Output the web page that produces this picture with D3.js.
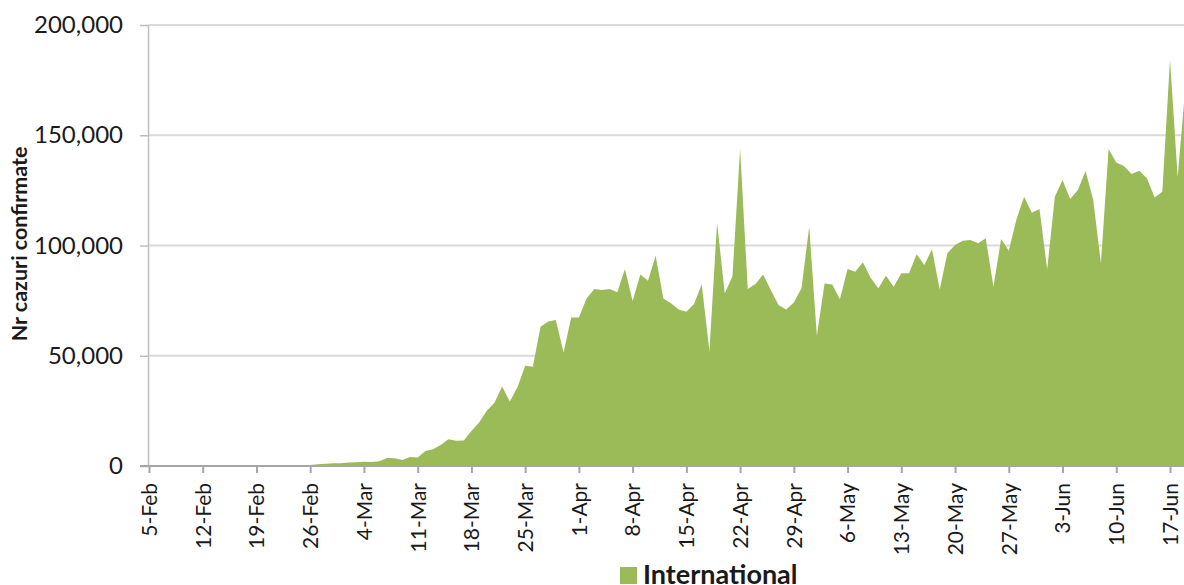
<!DOCTYPE html>
<html>
<head>
<meta charset="utf-8">
<script src="https://cdn.jsdelivr.net/npm/d3@7"></script>
<style>
  body { margin: 0; background: #fff; }
  text { font-family: Lato, "Open Sans", sans-serif; fill: #1a1a1a; }
</style>
</head>
<body>
<svg id="chart" width="1184" height="585"></svg>
<script>
// data: daily confirmed cases, starting 5-Feb
var startDate = new Date(Date.UTC(2020, 1, 5));
var seriesName = 'International';
var cases = [
  30, 25, 20, 40, 30, 35, 25, 30, 40, 50,
  20, 60, 40, 50, 60, 80, 120, 150, 200, 250, 350,
  450, 750, 1000, 1200, 1250, 1600, 1750, 1900, 1800, 2200,
  3600, 3500, 2700, 4100, 3900, 6800, 7600, 9500, 12100, 11500,
  11600, 15900, 19700, 25100, 28700, 36000, 29200, 35700, 45500, 45000,
  63200, 65500, 66200, 51500, 67400, 67400, 76000, 80300, 79800, 80300,
  78800, 89300, 74800, 86800, 84000, 95400, 76000, 73800, 71000, 70000,
  73500, 82400, 52200, 110300, 78300, 85900, 143800, 80300, 82500, 86900,
  79800, 73000, 71000, 74200, 80600, 108500, 59100, 82800, 82300, 75600,
  89300, 88100, 92400, 85400, 80600, 86300, 81300, 87400, 87400, 96000,
  91200, 98300, 80100, 96500, 100200, 102200, 102500, 101000, 103300, 81300,
  102900, 97600, 111900, 122100, 114900, 116500, 89200, 122100, 129700, 121100,
  125200, 133800, 120600, 91900, 143800, 137600, 136000, 132400, 133900, 130500,
  121800, 124400, 184400, 130900, 172000
];
var yTicks = [0, 50000, 100000, 150000, 200000];
var yTitle = 'Nr cazuri confirmate';

var dates = cases.map(function(d, i){
  return d3.utcDay.offset(startDate, i);
});
// weekly ticks 5-Feb .. 17-Jun
var tickDates = d3.range(0, 134, 7).map(function(i){
  return d3.utcDay.offset(startDate, i);
});

var svg = d3.select('#chart');

var plotLeft = 149, plotBottom = 466, plotTop = 25;
var dayPx = (1170 - 149) / 133;

var xScale = d3.scaleUtc()
  .domain([startDate, dates[dates.length - 1]])
  .range([plotLeft, plotLeft + (dates.length - 1) * dayPx]);

var yScale = d3.scaleLinear()
  .domain([0, 200000])
  .range([plotBottom, plotTop]);

// gridlines
svg.append('g')
  .attr('class', 'grid')
  .selectAll('line')
  .data(yTicks.slice(1))
  .enter()
  .append('line')
  .attr('x1', plotLeft - 1)
  .attr('x2', 1184)
  .attr('y1', function(d){ return yScale(d); })
  .attr('y2', function(d){ return yScale(d); })
  .attr('stroke', '#d9d9d9')
  .attr('stroke-width', 2);

// area
var area = d3.area()
  .x(function(d, i){ return xScale(dates[i]); })
  .y0(yScale(0))
  .y1(function(d){ return yScale(d); });

svg.append('path')
  .datum(cases)
  .attr('d', area)
  .attr('fill', '#9bbb59');

// y axis
var yAxis = d3.axisLeft(yScale)
  .tickValues(yTicks)
  .tickSize(8)
  .tickSizeOuter(0)
  .tickPadding(17)
  .tickFormat(d3.format(','));

var gy = svg.append('g')
  .attr('class', 'y-axis')
  .attr('transform', 'translate(' + (plotLeft - 1) + ',0)')
  .call(yAxis);
gy.select('.domain').attr('stroke', '#bfbfbf').attr('stroke-width', 1.5);
gy.selectAll('.tick line').attr('stroke', '#bfbfbf').attr('stroke-width', 1.5);
gy.selectAll('.tick text')
  .style('font-size', '24px')
  .attr('fill', '#1a1a1a');

// x axis
var xAxis = d3.axisBottom(xScale)
  .tickValues(tickDates)
  .tickSize(7)
  .tickSizeOuter(0)
  .tickFormat(d3.utcFormat('%-d-%b'));

var gx = svg.append('g')
  .attr('class', 'x-axis')
  .attr('transform', 'translate(0,' + plotBottom + ')')
  .call(xAxis);
gx.select('.domain').attr('stroke', '#a6a6a6').attr('stroke-width', 2)
  .attr('d', 'M' + (plotLeft - 9) + ',0H1184');
gx.selectAll('.tick line').attr('stroke', '#a6a6a6').attr('stroke-width', 2);
gx.selectAll('.tick text')
  .attr('transform', 'rotate(-90)')
  .attr('text-anchor', 'end')
  .attr('x', -17)
  .attr('y', 0)
  .attr('dy', '0.35em')
  .style('font-size', '21px')
  .attr('fill', '#1a1a1a');

// y title
svg.append('text')
  .attr('transform', 'translate(19,244) rotate(-90)')
  .attr('text-anchor', 'middle')
  .attr('dy', '0.35em')
  .style('font-size', '21.5px')
  .style('font-weight', 'bold')
  .text(yTitle);

// legend
svg.append('rect')
  .attr('x', 620)
  .attr('y', 567)
  .attr('width', 17)
  .attr('height', 17)
  .attr('fill', '#9bbb59');

svg.append('text')
  .attr('x', 643)
  .attr('y', 584)
  .style('font-size', '27px')
  .style('font-weight', 'bold')
  .text(seriesName);
</script>
</body>
</html>
